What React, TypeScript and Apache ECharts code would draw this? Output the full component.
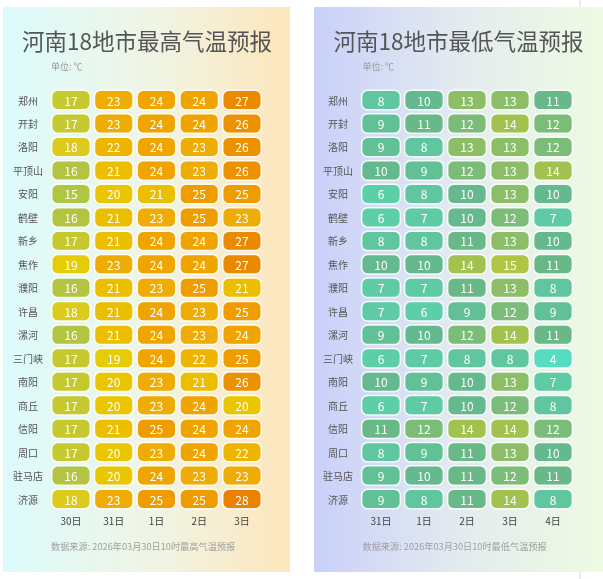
import { useRef, useEffect } from "react";
import * as echarts from "echarts";

const cities = ["郑州", "开封", "洛阳", "平顶山", "安阳", "鹤壁", "新乡", "焦作", "濮阳", "许昌", "漯河", "三门峡", "南阳", "商丘", "信阳", "周口", "驻马店", "济源"];
const highDays = ["30日", "31日", "1日", "2日", "3日"];
const lowDays = ["31日", "1日", "2日", "3日", "4日"];

const highTemps = [
  [17, 23, 24, 24, 27],
  [17, 23, 24, 24, 26],
  [18, 22, 24, 23, 26],
  [16, 21, 24, 23, 26],
  [15, 20, 21, 25, 25],
  [16, 21, 23, 25, 23],
  [17, 21, 24, 24, 27],
  [19, 23, 24, 24, 27],
  [16, 21, 23, 25, 21],
  [18, 21, 24, 23, 25],
  [16, 21, 24, 23, 24],
  [17, 19, 24, 22, 25],
  [17, 20, 23, 21, 26],
  [17, 20, 23, 24, 20],
  [17, 21, 25, 24, 24],
  [17, 20, 23, 24, 22],
  [16, 20, 24, 23, 23],
  [18, 23, 25, 25, 28],
];

const lowTemps = [
  [8, 10, 13, 13, 11],
  [9, 11, 12, 14, 12],
  [9, 8, 13, 13, 12],
  [10, 9, 12, 13, 14],
  [6, 8, 10, 13, 10],
  [6, 7, 10, 12, 7],
  [8, 8, 11, 13, 10],
  [10, 10, 14, 15, 11],
  [7, 7, 11, 13, 8],
  [7, 6, 9, 12, 9],
  [9, 10, 12, 14, 11],
  [6, 7, 8, 8, 4],
  [10, 9, 10, 13, 7],
  [6, 7, 10, 12, 8],
  [11, 12, 14, 14, 12],
  [8, 9, 11, 13, 10],
  [9, 10, 11, 12, 11],
  [9, 8, 11, 14, 8],
];

// one colour per degree, 4 ℃ .. 28 ℃
const tempColors = [
  "#56dcc0", "#5ad6b4", "#5ccfa8", "#5ecba4", "#60c6a0", "#62c096", "#65b98e", "#68b888",
  "#7abc78", "#8cbe68", "#a2c250", "#aec644", "#b2c442", "#c6c830", "#dcca1c", "#e6cc08",
  "#eac600", "#ecbe00", "#eeb400", "#eeac04", "#f0a400", "#ee9c00", "#ec9200", "#ea8a00", "#e88200",
];

const FONT = "'Noto Sans CJK SC', 'Noto Sans', sans-serif";

function toCells(rows: number[][]) {
  const out: number[][] = [];
  rows.forEach((row, r) => row.forEach((v, c) => out.push([c, r, v])));
  return out;
}

function renderCell(params: any, api: any) {
  const p = api.coord([api.value(0), api.value(1)]);
  const size = api.size([1, 1]);
  const w = size[0] * 0.9;
  const h = size[1] * 0.83;
  return {
    type: "group",
    children: [
      {
        type: "rect",
        shape: { x: p[0] - w / 2, y: p[1] - h / 2, width: w, height: h, r: 6 },
        style: { fill: api.visual("color"), stroke: "rgba(255,255,255,0.9)", lineWidth: 1.5 },
      },
      {
        type: "text",
        style: {
          text: String(api.value(2)),
          x: p[0],
          y: p[1],
          align: "center",
          verticalAlign: "middle",
          textAlign: "center",
          textVerticalAlign: "middle",
          fill: "#fff",
          fontSize: 12,
          fontFamily: FONT,
        },
      },
    ],
  };
}

function panelText(text: string, x: number, y: number, size: number, color: string, align = "left") {
  return {
    type: "text",
    x,
    y,
    style: { text, fill: color, fontSize: size, fontFamily: FONT, align, verticalAlign: "middle", textAlign: align, textVerticalAlign: "middle" },
  };
}

export default function App() {
  const chartRef = useRef<HTMLDivElement>(null);

  useEffect(() => {
    if (!chartRef.current) return;
    const chart = echarts.init(chartRef.current, null, { renderer: "svg" });

    const grid = { top: 88.3, height: 422.5 };
    const yAxisBase = {
      type: "category" as const,
      data: cities,
      inverse: true,
      axisLine: { show: false },
      axisTick: { show: false },
      splitLine: { show: false },
      axisLabel: { fontSize: 10, color: "#555", align: "center" as const, margin: 21.6, fontFamily: FONT },
    };
    const xAxisBase = {
      type: "category" as const,
      position: "bottom" as const,
      axisLine: { show: false },
      axisTick: { show: false },
      splitLine: { show: false },
      axisLabel: { fontSize: 10, color: "#444", margin: 5, fontFamily: FONT },
    };

    chart.setOption({
      animation: false,
      textStyle: { fontFamily: FONT },
      graphic: [
        { type: "rect", z: -10, shape: { x: 579, y: 0, width: 2, height: 579 }, style: { fill: "#e2ecfa" } },
        {
          type: "rect",
          z: -5,
          shape: { x: 3, y: 7, width: 287, height: 565 },
          style: {
            fill: new echarts.graphic.LinearGradient(0, 0, 1, 0, [
              { offset: 0, color: "#dcfbfc" },
              { offset: 0.5, color: "#eff5e6" },
              { offset: 1, color: "#fde6bc" },
            ]),
          },
        },
        {
          type: "rect",
          z: -5,
          shape: { x: 314, y: 7, width: 289, height: 565 },
          style: {
            fill: new echarts.graphic.LinearGradient(0, 0, 1, 0, [
              { offset: 0, color: "#c9d0fa" },
              { offset: 0.5, color: "#e3ebef" },
              { offset: 1, color: "#eefbe2" },
            ]),
          },
        },
        panelText("河南18地市最高气温预报", 147, 40, 22.5, "#555", "center"),
        panelText("单位: ℃", 51, 66, 9, "#999"),
        panelText("数据来源: 2026年03月30日10时最高气温预报", 51, 546, 9.2, "#a0a0a0"),
        panelText("河南18地市最低气温预报", 458.5, 40, 22.5, "#555", "center"),
        panelText("单位: ℃", 362.5, 66, 9, "#999"),
        panelText("数据来源: 2026年03月30日10时最低气温预报", 362.5, 546, 9.2, "#a0a0a0"),
      ],
      grid: [
        { ...grid, left: 49.6, width: 213.75 },
        { ...grid, left: 359.5, width: 215 },
      ],
      xAxis: [
        { ...xAxisBase, gridIndex: 0, data: highDays },
        { ...xAxisBase, gridIndex: 1, data: lowDays },
      ],
      yAxis: [
        { ...yAxisBase, gridIndex: 0 },
        { ...yAxisBase, gridIndex: 1 },
      ],
      visualMap: {
        type: "continuous",
        show: false,
        min: 4,
        max: 28,
        dimension: 2,
        seriesIndex: [0, 1],
        inRange: { color: tempColors },
      },
      series: [
        { type: "custom", name: "最高气温", xAxisIndex: 0, yAxisIndex: 0, data: toCells(highTemps), renderItem: renderCell },
        { type: "custom", name: "最低气温", xAxisIndex: 1, yAxisIndex: 1, data: toCells(lowTemps), renderItem: renderCell },
      ],
    } as any);

    return () => {
      chart.dispose();
    };
  }, []);

  return <div ref={chartRef} style={{ position: "fixed", left: 0, top: 0, width: 603, height: 579 }} />;
}
